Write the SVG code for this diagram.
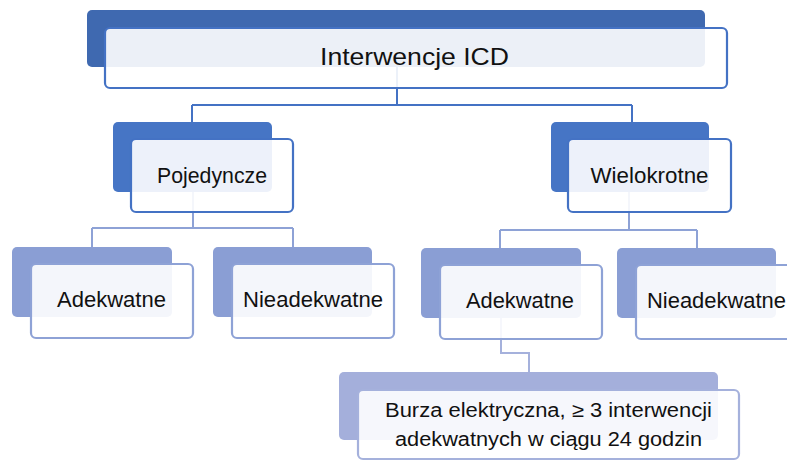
<svg xmlns="http://www.w3.org/2000/svg" width="787" height="461" viewBox="0 0 787 461">
<style>
.front{fill:#ffffff;fill-opacity:0.9;stroke-width:2.2}
.t{font-family:"Liberation Sans",Arial,sans-serif;fill:#111;text-anchor:middle}
.l1b{fill:#3F69B0}.l1f{stroke:#4472C4}
.l2b{fill:#4675C5}.l2f{stroke:#4472C4}
.l3b{fill:#8A9ED4}.l3f{stroke:#8EA2D6}
.l4b{fill:#A4AFDB}.l4f{stroke:#A5B1DC}
.c{fill:none;stroke-width:2}
</style>
<rect width="787" height="461" fill="#ffffff"/>
<g id="connectors">
<path class="c" stroke="#4472C4" d="M397 67V105M192 105H632M192 105V122M632 105V122"/>
<path class="c" stroke="#8EA2D6" d="M193 192V228M92 228H293M92 228V247M293 228V247"/>
<path class="c" stroke="#8EA2D6" d="M629 192V230M500 230H697M500 230V248M697 230V248"/>
<path class="c" stroke="#A5B1DC" d="M501 318V353H529V372"/>
</g>
<g id="n-root">
<rect class="l1b" x="87" y="10" width="618" height="57" rx="5"/>
<rect class="front l1f" x="105" y="28" width="622" height="60" rx="5"/>
<text class="t" x="414.5" y="65" font-size="24" textLength="189" lengthAdjust="spacingAndGlyphs">Interwencje ICD</text>
</g>
<g id="n-pojedyncze">
<rect class="l2b" x="113" y="122" width="159" height="70" rx="5"/>
<rect class="front l2f" x="131" y="139" width="162" height="73" rx="5"/>
<text class="t" x="212" y="183" font-size="22" textLength="110" lengthAdjust="spacingAndGlyphs">Pojedyncze</text>
</g>
<g id="n-wielokrotne">
<rect class="l2b" x="551" y="122" width="158" height="70" rx="5"/>
<rect class="front l2f" x="568" y="139" width="163" height="73" rx="5"/>
<text class="t" x="649.5" y="183" font-size="22" textLength="118" lengthAdjust="spacingAndGlyphs">Wielokrotne</text>
</g>
<g id="n-adekwatne-1">
<rect class="l3b" x="12" y="247" width="160" height="70" rx="5"/>
<rect class="front l3f" x="31" y="264" width="162" height="74" rx="5"/>
<text class="t" x="111.5" y="307" font-size="22" textLength="109" lengthAdjust="spacingAndGlyphs">Adekwatne</text>
</g>
<g id="n-nieadekwatne-1">
<rect class="l3b" x="213" y="247" width="159" height="70" rx="5"/>
<rect class="front l3f" x="232" y="264" width="162" height="74" rx="5"/>
<text class="t" x="313" y="307" font-size="22" textLength="140" lengthAdjust="spacingAndGlyphs">Nieadekwatne</text>
</g>
<g id="n-adekwatne-2">
<rect class="l3b" x="421" y="248" width="160" height="70" rx="5"/>
<rect class="front l3f" x="440" y="265" width="162" height="74" rx="5"/>
<text class="t" x="520" y="308" font-size="22" textLength="108" lengthAdjust="spacingAndGlyphs">Adekwatne</text>
</g>
<g id="n-nieadekwatne-2">
<rect class="l3b" x="617" y="248" width="159" height="70" rx="5"/>
<rect class="front l3f" x="636" y="265" width="162" height="74" rx="5"/>
<text class="t" x="716.5" y="308" font-size="22" textLength="139" lengthAdjust="spacingAndGlyphs">Nieadekwatne</text>
</g>
<g id="n-burza">
<rect class="l4b" x="339" y="372" width="379" height="68" rx="5"/>
<rect class="front l4f" x="358" y="390" width="381" height="69" rx="5"/>
<text class="t" x="548.5" y="417" font-size="20" textLength="327" lengthAdjust="spacingAndGlyphs">Burza elektryczna, ≥ 3 interwencji</text>
<text class="t" x="548.5" y="446" font-size="20" textLength="307" lengthAdjust="spacingAndGlyphs">adekwatnych w ciągu 24 godzin</text>
</g>
</svg>
